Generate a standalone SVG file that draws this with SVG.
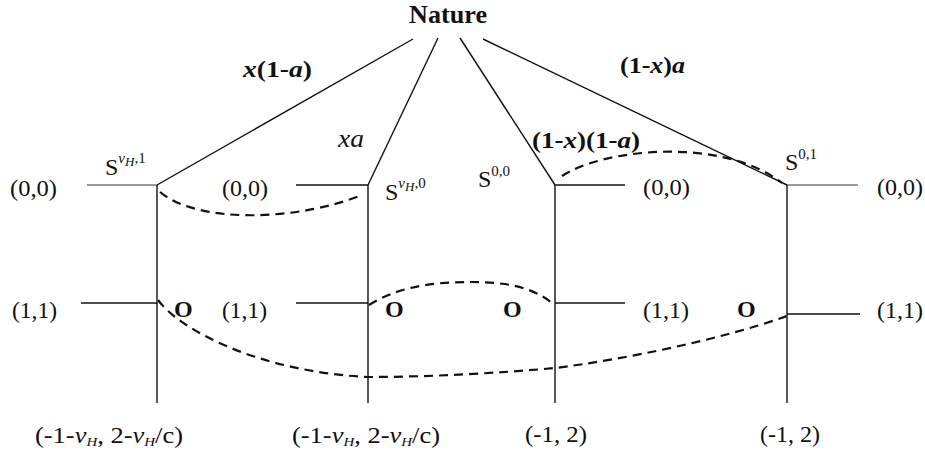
<svg xmlns="http://www.w3.org/2000/svg" width="925" height="452" viewBox="0 0 925 452">
<style>
text{font-family:"Liberation Serif","Times New Roman",serif;fill:#111}
.lbl{font-size:23px}
.bold{font-size:23px;font-weight:bold}
.o{font-size:24px;font-weight:bold}
.it{font-style:italic}
.sup{font-size:15px}
.sub{font-size:13px;font-style:italic}
.ln{stroke:#111;stroke-width:1.4;fill:none}
.gr{stroke:#777;stroke-width:1.6;fill:none}
.dash{stroke:#111;stroke-width:2.2;fill:none;stroke-dasharray:9 6}
</style>
<rect width="925" height="452" fill="#fff"/>
<g id="nature">
<text x="409" y="23" style="font-size:25px;font-weight:bold" textLength="78" lengthAdjust="spacingAndGlyphs">Nature</text>
</g>
<g id="connectors">
<line class="ln" x1="413" y1="39" x2="157" y2="185"/>
<line class="ln" x1="438" y1="38" x2="368" y2="185"/>
<line class="ln" x1="460" y1="38" x2="555" y2="185"/>
<line class="ln" x1="483" y1="39" x2="787" y2="185"/>
<line class="gr" x1="87" y1="185" x2="157" y2="185"/>
<line class="ln" x1="296" y1="185" x2="368" y2="185"/>
<line class="ln" x1="555" y1="185" x2="625" y2="185"/>
<line class="gr" x1="787" y1="185" x2="858" y2="185"/>
<line class="ln" x1="157" y1="185" x2="157" y2="403"/>
<line class="ln" x1="368" y1="185" x2="368" y2="403"/>
<line class="ln" x1="555" y1="185" x2="555" y2="403"/>
<line class="ln" x1="787" y1="185" x2="787" y2="403"/>
<line class="ln" x1="81" y1="303" x2="157" y2="303"/>
<line class="ln" x1="296" y1="303" x2="368" y2="303"/>
<line class="ln" x1="555" y1="303" x2="625" y2="303"/>
<line class="ln" x1="787" y1="314" x2="860" y2="314"/>
<path class="dash" d="M160,192 C200,225 300,220 362,195"/>
<path class="dash" d="M562,176 C600,150 720,135 782,183"/>
<path class="dash" d="M369,305 C400,285 440,282 470,282 C500,282 530,285 552,303"/>
<path class="dash" d="M158,300 C180,330 260,372 368,377 C430,377 500,373 555,368 C620,360 720,340 787,316"/>
</g>
<g id="edge-labels">
<text class="bold" x="243" y="77" textLength="69" lengthAdjust="spacingAndGlyphs"><tspan class="it">x</tspan>(1-<tspan class="it">a</tspan>)</text>
<text class="lbl it" x="338" y="147" style="font-size:25px" textLength="26" lengthAdjust="spacingAndGlyphs">xa</text>
<text class="bold" x="620" y="73" textLength="65" lengthAdjust="spacingAndGlyphs">(1-<tspan class="it">x</tspan>)<tspan class="it">a</tspan></text>
<text class="bold" x="532" y="148" textLength="108" lengthAdjust="spacingAndGlyphs">(1-<tspan class="it">x</tspan>)(1-<tspan class="it">a</tspan>)</text>
</g>
<g id="node-s1">
<text class="lbl" x="105" y="175" style="font-size:24px">S<tspan class="sup it" dy="-12">v</tspan><tspan class="sub" dy="3">H</tspan><tspan class="sup" dy="-3">,1</tspan></text>
<text class="lbl" x="10" y="196" textLength="47" lengthAdjust="spacingAndGlyphs">(0,0)</text>
<text class="lbl" x="12" y="318" textLength="45" lengthAdjust="spacingAndGlyphs">(1,1)</text>
<text class="o" x="174" y="317">O</text>
<text class="lbl" x="35" y="443" textLength="148" lengthAdjust="spacingAndGlyphs">(-1-<tspan class="it">v</tspan><tspan class="sub" dy="3">H</tspan><tspan dy="-3">, 2-</tspan><tspan class="it">v</tspan><tspan class="sub" dy="3">H</tspan><tspan dy="-3">/c)</tspan></text>
</g>
<g id="node-s2">
<text class="lbl" x="385" y="200" style="font-size:24px">S<tspan class="sup it" dy="-12">v</tspan><tspan class="sub" dy="3">H</tspan><tspan class="sup" dy="-3">,0</tspan></text>
<text class="lbl" x="222" y="196" textLength="46" lengthAdjust="spacingAndGlyphs">(0,0)</text>
<text class="lbl" x="222" y="318" textLength="45" lengthAdjust="spacingAndGlyphs">(1,1)</text>
<text class="o" x="385" y="317">O</text>
<text class="lbl" x="292" y="443" textLength="148" lengthAdjust="spacingAndGlyphs">(-1-<tspan class="it">v</tspan><tspan class="sub" dy="3">H</tspan><tspan dy="-3">, 2-</tspan><tspan class="it">v</tspan><tspan class="sub" dy="3">H</tspan><tspan dy="-3">/c)</tspan></text>
</g>
<g id="node-s3">
<text class="lbl" x="478" y="187" style="font-size:24px">S<tspan class="sup" dy="-11">0,0</tspan></text>
<text class="lbl" x="643" y="195" textLength="47" lengthAdjust="spacingAndGlyphs">(0,0)</text>
<text class="lbl" x="643" y="318" textLength="46" lengthAdjust="spacingAndGlyphs">(1,1)</text>
<text class="o" x="503" y="317">O</text>
<text class="lbl" x="525" y="442" textLength="62" lengthAdjust="spacingAndGlyphs">(-1, 2)</text>
</g>
<g id="node-s4">
<text class="lbl" x="785" y="170" style="font-size:24px">S<tspan class="sup" dy="-11">0,1</tspan></text>
<text class="lbl" x="877" y="195" textLength="46" lengthAdjust="spacingAndGlyphs">(0,0)</text>
<text class="lbl" x="877" y="318" textLength="46" lengthAdjust="spacingAndGlyphs">(1,1)</text>
<text class="o" x="737" y="317">O</text>
<text class="lbl" x="760" y="442" textLength="60" lengthAdjust="spacingAndGlyphs">(-1, 2)</text>
</g>
</svg>
